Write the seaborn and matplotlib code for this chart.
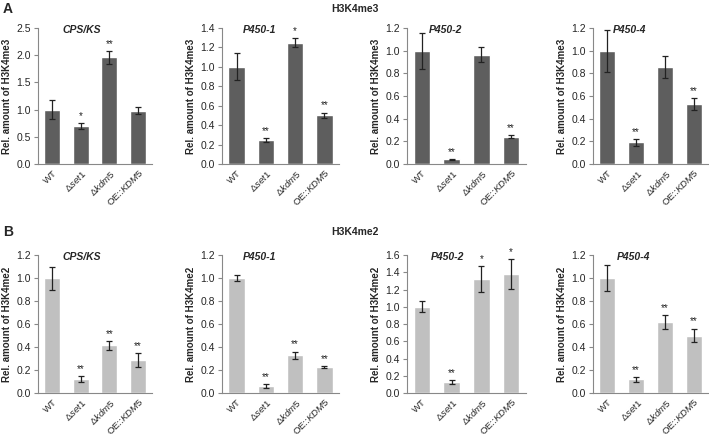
import matplotlib
matplotlib.use("Agg")
import matplotlib.pyplot as plt
import numpy as np
import pandas as pd
import seaborn as sns

strains = ["WT", "Δset1", "Δkdm5", "OE::KDM5"]
tick_labels = ["WT", r"Δ$\it{set1}$", r"Δ$\it{kdm5}$", r"OE::$\it{KDM5}$"]
genes = ["CPS/KS", "P450-1", "P450-2", "P450-4"]

# H3K4me3 (row A)
me3_vals = [[1.00, 0.70, 1.96, 0.98],
            [1.00, 0.25, 1.25, 0.50],
            [1.00, 0.04, 0.965, 0.24],
            [1.00, 0.19, 0.855, 0.53]]
me3_err = [[0.18, 0.05, 0.12, 0.06],
           [0.14, 0.02, 0.05, 0.03],
           [0.16, 0.006, 0.065, 0.012],
           [0.185, 0.03, 0.095, 0.055]]
me3_sig = [["", "*", "**", ""],
           ["", "**", "*", "**"],
           ["", "**", "", "**"],
           ["", "**", "", "**"]]
me3_ymax = [2.5, 1.4, 1.2, 1.2]
me3_step = [0.5, 0.2, 0.2, 0.2]

# H3K4me2 (row B)
me2_vals = [[1.00, 0.12, 0.415, 0.29],
            [1.00, 0.06, 0.33, 0.225],
            [1.00, 0.13, 1.32, 1.38],
            [1.00, 0.12, 0.615, 0.50]]
me2_err = [[0.10, 0.025, 0.04, 0.06],
           [0.03, 0.015, 0.03, 0.01],
           [0.065, 0.02, 0.15, 0.175],
           [0.11, 0.02, 0.06, 0.06]]
me2_sig = [["", "**", "**", "**"],
           ["", "**", "**", "**"],
           ["", "**", "*", "*"],
           ["", "**", "**", "**"]]
me2_ymax = [1.2, 1.2, 1.6, 1.2]
me2_step = [0.2, 0.2, 0.2, 0.2]

sns.set_style("white")
plt.rcParams['font.family'] = ['Liberation Sans', 'DejaVu Sans']
plt.rcParams['mathtext.fontset'] = 'custom'
plt.rcParams['mathtext.it'] = 'Liberation Sans:italic'
plt.rcParams['mathtext.rm'] = 'Liberation Sans'

W, H = 709, 436
fig = plt.figure(figsize=(W / 100, H / 100), dpi=100)

lefts = [38, 222, 407, 593]
widths = [114, 117, 119, 115]
rows = [
    dict(top=28, bottom=164, vals=me3_vals, err=me3_err, sig=me3_sig, ymax=me3_ymax,
         step=me3_step, color="#5e5e5e", ylab="Rel. amount of H3K4me3",
         title_x=[0.38, 0.32, 0.32, 0.32]),
    dict(top=255, bottom=393, vals=me2_vals, err=me2_err, sig=me2_sig, ymax=me2_ymax,
         step=me2_step, color="#c0c0c0", ylab="Rel. amount of H3K4me2",
         title_x=[0.38, 0.32, 0.34, 0.35]),
]

for row in rows:
    for i, gene in enumerate(genes):
        ax = fig.add_axes([lefts[i] / W, 1 - row["bottom"] / H, widths[i] / W,
                           (row["bottom"] - row["top"]) / H])
        df = pd.DataFrame({"strain": strains, "value": row["vals"][i]})
        sns.barplot(data=df, x="strain", y="value", color=row["color"], width=0.56,
                    saturation=1, errorbar=None, ax=ax)
        ax.errorbar(np.arange(4), row["vals"][i], yerr=row["err"][i], fmt="none",
                    ecolor="#222222", elinewidth=0.9, capsize=2.2, capthick=0.9)
        ymax = row["ymax"][i]
        for j in range(4):
            if row["sig"][i][j]:
                ax.text(j, row["vals"][i][j] + row["err"][i][j] + ymax * 0.015, row["sig"][i][j],
                        ha="center", va="bottom", fontsize=7, color="#222222")
        ax.set_ylim(0, ymax)
        ax.set_xlim(-0.5, 3.5)
        yt = np.arange(0, ymax + 1e-6, row["step"][i])
        ax.set_yticks(yt)
        ax.set_yticklabels([f"{v:.1f}" for v in yt])
        ax.set_xticks(range(4))
        ax.set_xticklabels(tick_labels, rotation=45, ha="right", rotation_mode="anchor")
        ax.set_xticks(np.arange(-0.5, 4, 1), minor=True)
        ax.tick_params(axis="x", which="major", length=0, labelsize=6.8, pad=3)
        ax.tick_params(axis="x", which="minor", length=3, color="#888888", direction="out")
        ax.tick_params(axis="y", length=3, color="#888888", direction="out", labelsize=7.5, pad=2, left=True)
        ax.set_xlabel("")
        ax.set_ylabel(row["ylab"], fontsize=7, fontweight="bold", labelpad=3)
        sns.despine(ax=ax)
        for s in ["left", "bottom"]:
            ax.spines[s].set_color("#888888")
            ax.spines[s].set_linewidth(0.8)
        ax.text(row["title_x"][i], 0.985, gene, transform=ax.transAxes, ha="center", va="center",
                fontsize=7.5, fontweight="bold", fontstyle="italic")

fig.text(355 / W, 1 - 9 / H, "H3K4me3", ha="center", va="center", fontsize=7.5, fontweight="bold")
fig.text(355 / W, 1 - 232 / H, "H3K4me2", ha="center", va="center", fontsize=7.5, fontweight="bold")
fig.text(3 / W, 1 - 9 / H, "A", ha="left", va="center", fontsize=10, fontweight="bold")
fig.text(3 / W, 1 - 232 / H, "B", ha="left", va="center", fontsize=10, fontweight="bold")

fig.savefig("out.png", dpi=100)
